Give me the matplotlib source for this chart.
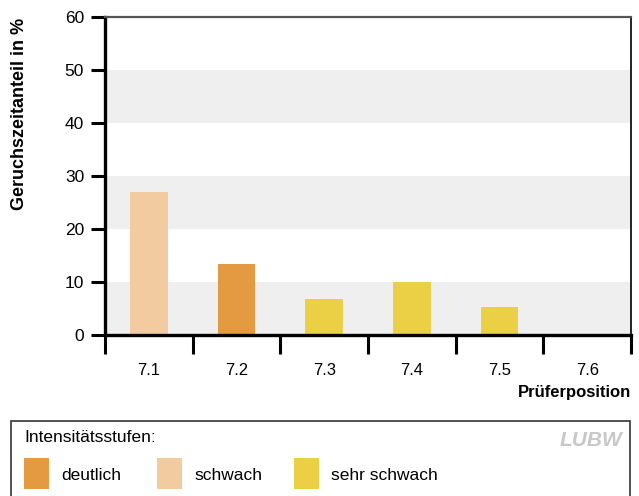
import matplotlib
matplotlib.use("Agg")
import matplotlib.pyplot as plt
from matplotlib.patches import Rectangle
import numpy as np

plt.rcParams['font.family'] = ['Liberation Sans', 'DejaVu Sans']

# Data
positions = ["7.1", "7.2", "7.3", "7.4", "7.5", "7.6"]
values = [27.0, 13.4, 6.8, 10.0, 5.3, 0.0]
levels = ["schwach", "deutlich", "sehr schwach", "sehr schwach", "sehr schwach", "sehr schwach"]
level_names = ["deutlich", "schwach", "sehr schwach"]
level_colors = {"deutlich": "#e39a40", "schwach": "#f2cca0", "sehr schwach": "#ebcf45"}
y_ticks = [0, 10, 20, 30, 40, 50, 60]

W, H = 639, 496
fig = plt.figure(figsize=(W / 100, H / 100), dpi=100)

# Plot area in pixel coordinates
left, right, top, bottom = 105, 631, 17, 335
ax = fig.add_axes([left / W, 1 - bottom / H, (right - left) / W, (bottom - top) / H])

x = np.arange(len(positions))
ax.set_xlim(-0.5, len(positions) - 0.5)
ax.set_ylim(0, 60)

# Alternating background bands
for lo in (0, 20, 40):
    ax.axhspan(lo, lo + 10, color="#efefef", zorder=0, lw=0)

ax.bar(x, values, width=0.43, color=[level_colors[l] for l in levels], zorder=2)

ax.set_yticks(y_ticks)
ax.set_yticklabels([str(t) for t in y_ticks], fontsize=12.5)
ax.tick_params(axis="y", direction="out", length=10, width=2.2, pad=5, color="black")

# Category labels centered, ticks at category boundaries
ax.set_xticks(x)
ax.set_xticklabels(positions, fontsize=12)
ax.tick_params(axis="x", length=0, pad=20)
ax.set_xticks(np.arange(-0.5, len(positions)), minor=True)
ax.tick_params(axis="x", which="minor", direction="out", length=14, width=2.2, color="black")

for side in ("left", "bottom"):
    ax.spines[side].set_linewidth(2.4)
    ax.spines[side].set_color("black")
ax.spines["top"].set_linewidth(1.6)
ax.spines["top"].set_color("#555555")
ax.spines["right"].set_linewidth(1.2)
ax.spines["right"].set_color("black")

fig.text(20 / W, 1 - 114 / H, "Geruchszeitanteil in %", rotation=90, fontsize=13,
         fontweight="bold", ha="center", va="center")
fig.text(631 / W, 1 - 392 / H, "Prüferposition", fontsize=12, fontweight="bold",
         ha="right", va="center")

# Legend box
box = Rectangle((11 / W, -0.01), (630 - 11) / W, 1 - 421 / H + 0.01,
                transform=fig.transFigure, facecolor="white", edgecolor="#333333", lw=1.2)
fig.patches.append(box)
fig.text(24 / W, 1 - 438 / H, "Intensitätsstufen:", fontsize=12.5, ha="left", va="center")

swatch_x = [24, 157, 294]
for sx, name in zip(swatch_x, level_names):
    fig.patches.append(Rectangle((sx / W, 1 - 489 / H), 25 / W, 31 / H,
                                 transform=fig.transFigure, facecolor=level_colors[name], lw=0))
    fig.text((sx + 37) / W, 1 - 475 / H, name, fontsize=12.5, ha="left", va="center")

fig.text(591 / W, 1 - 441 / H, "LUBW", fontsize=15, fontweight="bold", style="italic",
         family=["Liberation Sans Narrow", "Liberation Sans"],
         color="#c8c8c8", ha="center", va="center")

fig.savefig("out.png", dpi=100)
